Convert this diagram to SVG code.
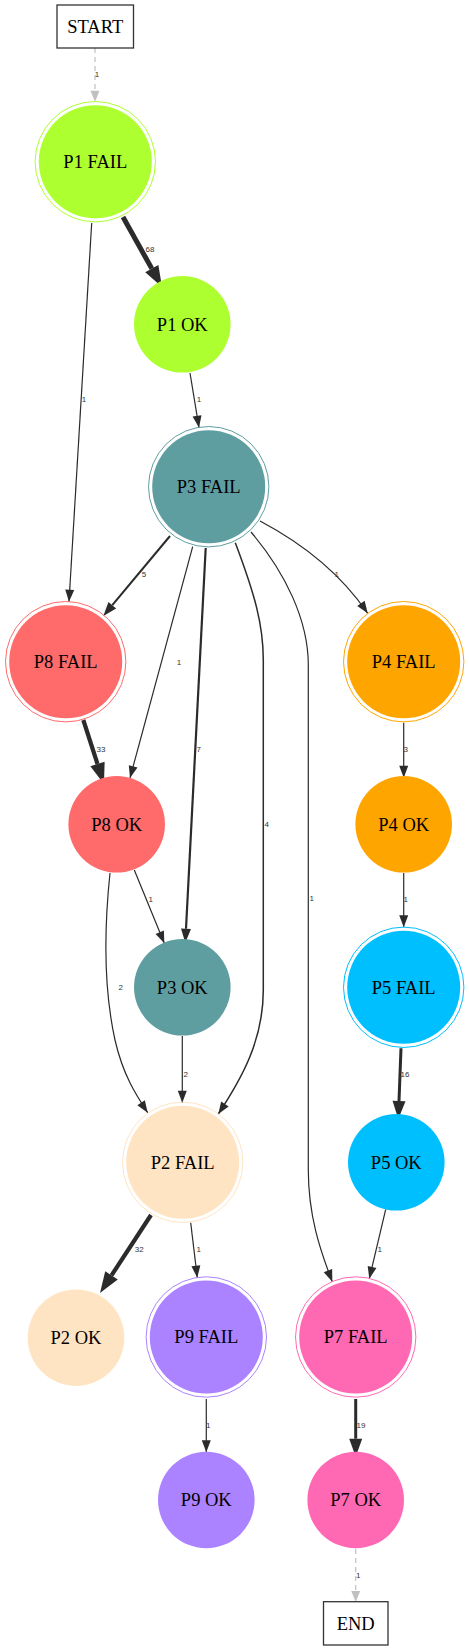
<svg xmlns="http://www.w3.org/2000/svg" width="469" height="1650" viewBox="0 0 469 1650">
<style>
.nt{font-family:"Liberation Serif","Times New Roman",serif;font-size:18.5px;text-anchor:middle;fill:#000}
.el{font-family:"Liberation Sans",Arial,sans-serif;font-size:8px;text-anchor:middle;fill:#333}
.e{fill:none;stroke:#2b2b2b}
.g{fill:none;stroke:#c0c0c0;stroke-width:1.2;stroke-dasharray:5,4}
.box{fill:#fff;stroke:#333;stroke-width:1.3}
.ring{fill:none;stroke-width:1}
</style>
<defs>
<marker id="a1" markerUnits="userSpaceOnUse" viewBox="0 0 12 9" markerWidth="12" markerHeight="9" refX="12" refY="4.5" orient="auto" overflow="visible"><path d="M0,0 L12,4.5 L0,9 z" fill="#2b2b2b"/></marker>
<marker id="a2" markerUnits="userSpaceOnUse" viewBox="0 0 14 10" markerWidth="14" markerHeight="10" refX="0" refY="5" orient="auto" overflow="visible"><path d="M0,0 L14,5 L0,10 z" fill="#2b2b2b"/></marker>
<marker id="a3" markerUnits="userSpaceOnUse" viewBox="0 0 18 13" markerWidth="18" markerHeight="13" refX="0" refY="6.5" orient="auto" overflow="visible"><path d="M0,0 L18,6.5 L0,13 z" fill="#2b2b2b"/></marker>
<marker id="a4" markerUnits="userSpaceOnUse" viewBox="0 0 21 15" markerWidth="21" markerHeight="15" refX="0" refY="7.5" orient="auto" overflow="visible"><path d="M0,0 L21,7.5 L0,15 z" fill="#2b2b2b"/></marker>
<marker id="ag" markerUnits="userSpaceOnUse" viewBox="0 0 11 9" markerWidth="11" markerHeight="9" refX="11" refY="4.5" orient="auto" overflow="visible"><path d="M0,0 L11,4.5 L0,9 z" fill="#c0c0c0"/></marker>
</defs>
<rect width="469" height="1650" fill="#fff"/>
<g id="edges">
<path class="g" d="M95,48 L95,101.7" marker-end="url(#ag)"/>
<text class="el" x="97" y="77">1</text>
<path class="e" stroke-width="5" d="M123,217 L151.8,268.6" marker-end="url(#a4)"/>
<text class="el" x="150" y="252">68</text>
<path class="e" stroke-width="1.2" d="M91.7,223 L69,601.7" marker-end="url(#a1)"/>
<text class="el" x="84" y="402">1</text>
<path class="e" stroke-width="1.2" d="M190,373 L199,427.7" marker-end="url(#a1)"/>
<text class="el" x="199" y="402">1</text>
<path class="e" stroke-width="2" d="M170,536 L112.3,605.2" marker-end="url(#a2)"/>
<text class="el" x="144" y="577">5</text>
<path class="e" stroke-width="1.2" d="M260,521 Q330,558 367.7,613.3" marker-end="url(#a1)"/>
<text class="el" x="336.7" y="577">1</text>
<path class="e" stroke-width="1.2" d="M192.7,546.7 L130,778" marker-end="url(#a1)"/>
<text class="el" x="179" y="665">1</text>
<path class="e" stroke-width="2.2" d="M205.7,548 L186,928.7" marker-end="url(#a2)"/>
<text class="el" x="198.7" y="752">7</text>
<path class="e" stroke-width="4.2" d="M83.3,720 L97.5,764" marker-end="url(#a4)"/>
<text class="el" x="101" y="752">33</text>
<path class="e" stroke-width="1.2" d="M403.7,722.7 L403.7,777.7" marker-end="url(#a1)"/>
<text class="el" x="405.7" y="752">3</text>
<path class="e" stroke-width="1.5" d="M235.3,542.7 C255,595 263.3,625 263.3,660 L263.3,990 C263.3,1040 242,1078 218.3,1114" marker-end="url(#a1)"/>
<text class="el" x="266.7" y="827">4</text>
<path class="e" stroke-width="1.2" d="M251,532 C285,572 308.3,620 308.3,665 L308.3,1170 C308.3,1215 320,1250 332.3,1281.7" marker-end="url(#a1)"/>
<text class="el" x="311.7" y="901">1</text>
<path class="e" stroke-width="1.2" d="M134.3,870 L164.3,943.3" marker-end="url(#a1)"/>
<text class="el" x="150.7" y="902">1</text>
<path class="e" stroke-width="1.2" d="M403.7,873 L403.7,927.3" marker-end="url(#a1)"/>
<text class="el" x="405.7" y="902">1</text>
<path class="e" stroke-width="1.2" d="M110,873 C104,930 104,990 115,1040 C123,1075 136,1095 147.7,1112.7" marker-end="url(#a1)"/>
<text class="el" x="120.7" y="990">2</text>
<path class="e" stroke-width="1.2" d="M182.3,1036 L182.3,1102.7" marker-end="url(#a1)"/>
<text class="el" x="185.7" y="1077">2</text>
<path class="e" stroke-width="3" d="M401,1048.3 L399,1101" marker-end="url(#a3)"/>
<text class="el" x="405" y="1077">16</text>
<path class="e" stroke-width="4.2" d="M151,1215 L111.5,1275.4" marker-end="url(#a4)"/>
<text class="el" x="139.3" y="1252">32</text>
<path class="e" stroke-width="1.2" d="M190.7,1222.7 L197.3,1277.7" marker-end="url(#a1)"/>
<text class="el" x="198.7" y="1252">1</text>
<path class="e" stroke-width="1.2" d="M385.7,1209.3 L369.3,1278.7" marker-end="url(#a1)"/>
<text class="el" x="379.7" y="1252">1</text>
<path class="e" stroke-width="1.2" d="M206.3,1399 L206.3,1452.3" marker-end="url(#a1)"/>
<text class="el" x="208.3" y="1428">1</text>
<path class="e" stroke-width="3" d="M355.7,1399 L355.7,1438.7" marker-end="url(#a3)"/>
<text class="el" x="361" y="1428">19</text>
<path class="g" d="M355.7,1549 L355.7,1602" marker-end="url(#ag)"/>
<text class="el" x="358.3" y="1578">1</text>
</g>
<g id="start"><rect class="box" x="57" y="5" width="76.5" height="43"/><text class="nt" x="95.2" y="32.5">START</text></g>
<g id="p1fail"><circle cx="95.3" cy="161.7" r="56.5" fill="#adff2f"/><circle class="ring" cx="95.3" cy="161.7" r="60.2" stroke="#adff2f"/><text class="nt" x="95.3" y="168">P1 FAIL</text></g>
<g id="p1ok"><circle cx="182.3" cy="324.3" r="48.3" fill="#adff2f"/><text class="nt" x="182.3" y="330.5">P1 OK</text></g>
<g id="p3fail"><circle cx="208.7" cy="486.7" r="56.5" fill="#5f9ea0"/><circle class="ring" cx="208.7" cy="486.7" r="60.2" stroke="#5f9ea0"/><text class="nt" x="208.7" y="493">P3 FAIL</text></g>
<g id="p8fail"><circle cx="65.7" cy="661.7" r="56.5" fill="#ff6a6a"/><circle class="ring" cx="65.7" cy="661.7" r="60.2" stroke="#ff6a6a"/><text class="nt" x="65.7" y="668">P8 FAIL</text></g>
<g id="p4fail"><circle cx="403.7" cy="661.7" r="56.5" fill="#ffa500"/><circle class="ring" cx="403.7" cy="661.7" r="60.2" stroke="#ffa500"/><text class="nt" x="403.7" y="668">P4 FAIL</text></g>
<g id="p8ok"><circle cx="116.7" cy="824.3" r="48.3" fill="#ff6a6a"/><text class="nt" x="116.7" y="830.5">P8 OK</text></g>
<g id="p4ok"><circle cx="403.7" cy="824.3" r="48.3" fill="#ffa500"/><text class="nt" x="403.7" y="830.5">P4 OK</text></g>
<g id="p3ok"><circle cx="182.3" cy="987.3" r="48.3" fill="#5f9ea0"/><text class="nt" x="182.3" y="993.5">P3 OK</text></g>
<g id="p5fail"><circle cx="403.7" cy="987.3" r="56.5" fill="#00bfff"/><circle class="ring" cx="403.7" cy="987.3" r="60.2" stroke="#00bfff"/><text class="nt" x="403.7" y="993.5">P5 FAIL</text></g>
<g id="p2fail"><circle cx="182.7" cy="1162.3" r="56.5" fill="#ffe4c4"/><circle class="ring" cx="182.7" cy="1162.3" r="60.2" stroke="#ffe4c4"/><text class="nt" x="182.7" y="1168.5">P2 FAIL</text></g>
<g id="p5ok"><circle cx="396.3" cy="1162.3" r="48.3" fill="#00bfff"/><text class="nt" x="396.3" y="1168.5">P5 OK</text></g>
<g id="p2ok"><circle cx="76" cy="1337.7" r="48.3" fill="#ffe4c4"/><text class="nt" x="76" y="1344">P2 OK</text></g>
<g id="p9fail"><circle cx="206.3" cy="1337" r="56.5" fill="#ab82ff"/><circle class="ring" cx="206.3" cy="1337" r="60.2" stroke="#ab82ff"/><text class="nt" x="206.3" y="1343.3">P9 FAIL</text></g>
<g id="p7fail"><circle cx="355.7" cy="1337" r="56.5" fill="#ff69b4"/><circle class="ring" cx="355.7" cy="1337" r="60.2" stroke="#ff69b4"/><text class="nt" x="355.7" y="1343.3">P7 FAIL</text></g>
<g id="p9ok"><circle cx="206.3" cy="1500" r="48.3" fill="#ab82ff"/><text class="nt" x="206.3" y="1506.3">P9 OK</text></g>
<g id="p7ok"><circle cx="355.7" cy="1500" r="48.3" fill="#ff69b4"/><text class="nt" x="355.7" y="1506.3">P7 OK</text></g>
<g id="end"><rect class="box" x="323.5" y="1601.7" width="64.5" height="43.3"/><text class="nt" x="355.7" y="1629.5">END</text></g>
</svg>
